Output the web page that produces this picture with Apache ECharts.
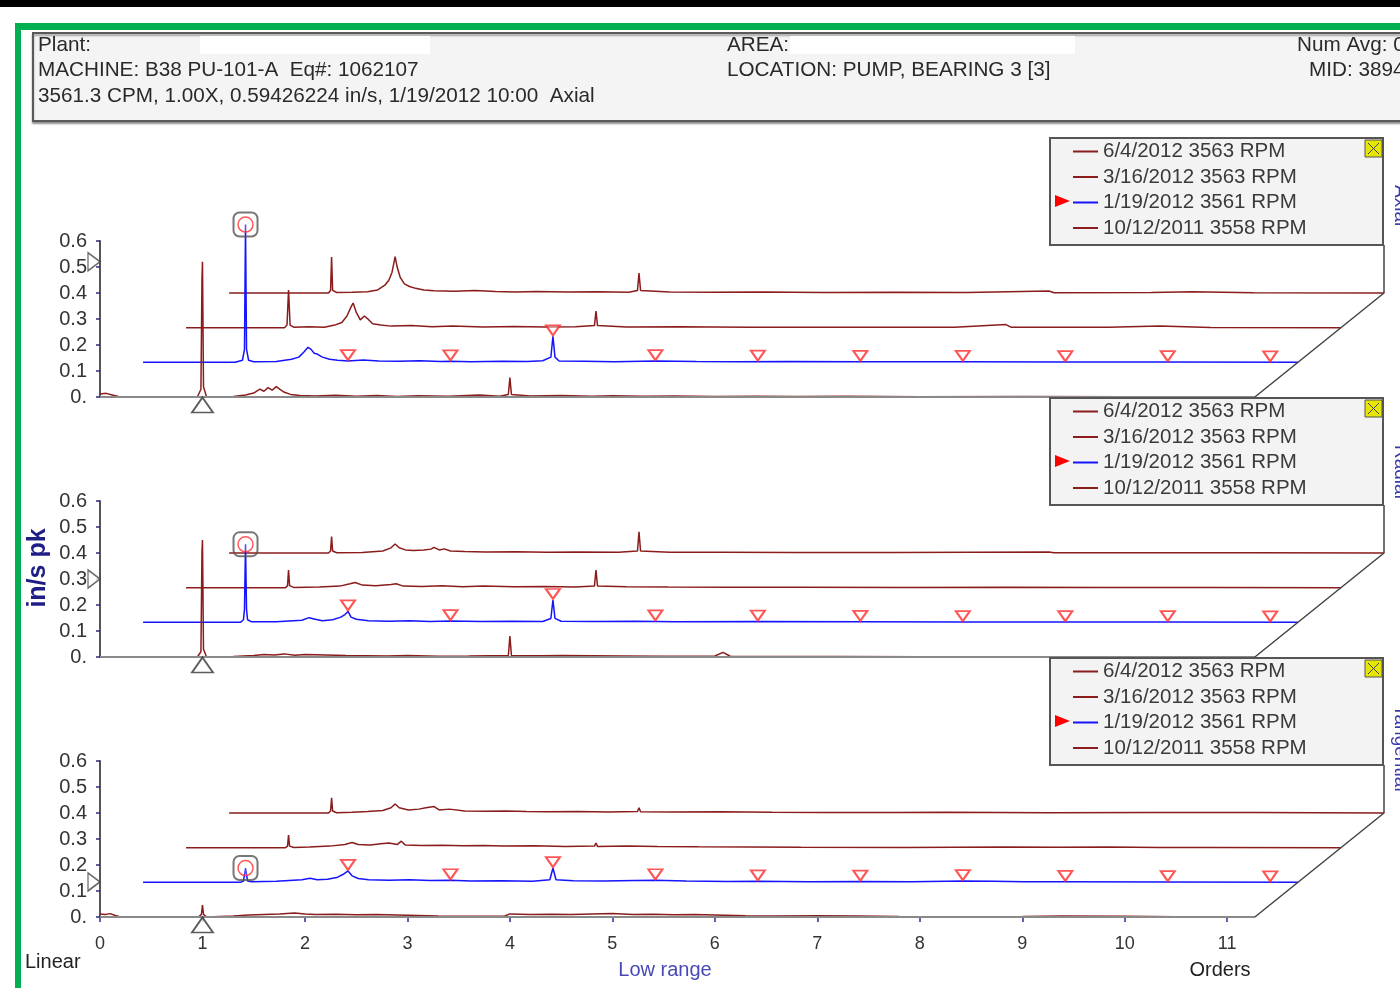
<!DOCTYPE html>
<html><head><meta charset="utf-8">
<script src="https://cdn.jsdelivr.net/npm/echarts@6.0.0/dist/echarts.min.js"></script>
<style>html,body{margin:0;padding:0;background:#fff}#c{width:1400px;height:988px}</style>
</head><body><div id="c"></div>
<script>
// ---------- DATA ----------
const orderTicks = [0,1,2,3,4,5,6,7,8,9,10,11];
const ampTicksMax = 0.6;
const legendNames = ['6/4/2012 3563 RPM','3/16/2012 3563 RPM','1/19/2012 3561 RPM','10/12/2011 3558 RPM'];
const panelNames = ['Axial','Radial','Tangential'];
const harmonicOrders = [2,3,4,5,6,7,8,9,10,11];

// Axial spectra [order, in/s pk]
const axialOct2011 = [[0,0.012],[0.06,0.014],[0.12,0.008],[0.18,0.002],[0.3,0],[0.95,0],[0.985,0.03],[0.995,0.45],[1.0,0.52],[1.01,0.04],[1.04,0],[1.3,0.002],[1.42,0.008],[1.5,0.015],[1.56,0.03],[1.6,0.022],[1.64,0.036],[1.68,0.026],[1.72,0.04],[1.76,0.028],[1.8,0.018],[1.86,0.01],[1.95,0.006],[2.1,0.004],[2.3,0.007],[2.5,0.003],[2.7,0.006],[2.9,0.002],[3.1,0.005],[3.4,0.003],[3.7,0.008],[3.9,0.003],[3.985,0.01],[4.0,0.075],[4.015,0.01],[4.2,0.004],[4.5,0.006],[4.8,0.003],[5.0,0.005],[5.3,0.003],[5.6,0.004],[6.0,0.002],[6.4,0.003],[6.8,0.002],[7.3,0.003],[8.0,0.001],[9.0,0.002],[10.0,0.001],[11.27,0]];
const axialJan2012 = [[0,0],[0.9,0],[0.97,0.008],[0.99,0.05],[1.0,0.53],[1.01,0.05],[1.03,0.008],[1.08,0.002],[1.3,0.003],[1.45,0.012],[1.52,0.02],[1.57,0.04],[1.61,0.058],[1.64,0.05],[1.67,0.035],[1.7,0.032],[1.75,0.02],[1.82,0.012],[1.9,0.008],[2.0,0.005],[2.15,0.009],[2.3,0.005],[2.5,0.004],[2.7,0.006],[2.9,0.003],[3.0,0.004],[3.2,0.002],[3.5,0.004],[3.75,0.003],[3.9,0.006],[3.98,0.02],[4.0,0.1],[4.02,0.02],[4.06,0.005],[4.3,0.004],[4.6,0.002],[5.0,0.005],[5.4,0.003],[5.8,0.002],[6.3,0.003],[7.0,0.002],[8.0,0.002],[9.0,0.001],[10.0,0.001],[11.27,0]];
const axialMar2012 = [[0,0],[0.96,0],[0.985,0.01],[1.0,0.145],[1.015,0.01],[1.05,0.002],[1.2,0.004],[1.35,0.002],[1.45,0.01],[1.52,0.02],[1.57,0.045],[1.61,0.08],[1.63,0.095],[1.66,0.06],[1.7,0.03],[1.74,0.045],[1.77,0.035],[1.82,0.015],[1.9,0.01],[2.0,0.006],[2.2,0.008],[2.4,0.004],[2.6,0.006],[2.9,0.003],[3.2,0.005],[3.5,0.003],[3.8,0.004],[3.985,0.008],[4.0,0.064],[4.015,0.008],[4.3,0.003],[4.8,0.004],[5.5,0.002],[6.5,0.002],[7.5,0.002],[8.0,0.012],[8.05,0.002],[9.0,0.002],[9.5,0.006],[10.0,0.001],[11.27,0]];
const axialJun2012 = [[0,0],[0.97,0],[0.99,0.01],[1.0,0.138],[1.01,0.01],[1.05,0.002],[1.2,0.003],[1.35,0.005],[1.45,0.012],[1.52,0.03],[1.56,0.05],[1.59,0.08],[1.61,0.12],[1.62,0.14],[1.64,0.1],[1.67,0.06],[1.71,0.035],[1.76,0.025],[1.82,0.018],[1.9,0.012],[2.0,0.009],[2.2,0.007],[2.4,0.01],[2.6,0.006],[2.8,0.004],[3.0,0.006],[3.3,0.004],[3.6,0.005],[3.9,0.003],[3.985,0.01],[4.0,0.077],[4.015,0.01],[4.3,0.004],[4.7,0.003],[5.2,0.004],[5.8,0.002],[6.5,0.003],[7.2,0.002],[8.0,0.008],[8.05,0.001],[9.0,0.002],[9.4,0.005],[10.0,0.001],[11.27,0]];

// Radial spectra
const radialOct2011 = [[0,0],[0.95,0],[0.985,0.02],[0.995,0.4],[1.0,0.45],[1.01,0.03],[1.04,0],[1.3,0.002],[1.5,0.006],[1.6,0.01],[1.7,0.008],[1.8,0.012],[1.9,0.007],[2.0,0.01],[2.2,0.008],[2.4,0.006],[2.6,0.005],[2.8,0.004],[3.0,0.006],[3.3,0.003],[3.6,0.004],[3.985,0.006],[4.0,0.081],[4.015,0.006],[4.3,0.005],[4.5,0.006],[4.8,0.005],[5.1,0.004],[5.5,0.003],[6.0,0.004],[6.08,0.018],[6.15,0.003],[6.6,0.002],[7.2,0.002],[8.0,0.001],[9.0,0.001],[10.0,0.001],[11.27,0]];
const radialJan2012 = [[0,0],[0.95,0],[0.98,0.01],[0.99,0.05],[1.0,0.3],[1.01,0.05],[1.02,0.01],[1.06,0.002],[1.3,0.002],[1.55,0.008],[1.62,0.018],[1.68,0.012],[1.75,0.006],[1.85,0.01],[1.93,0.02],[1.97,0.03],[2.0,0.042],[2.03,0.02],[2.08,0.012],[2.2,0.006],[2.4,0.004],[2.6,0.006],[2.8,0.003],[3.0,0.005],[3.3,0.003],[3.6,0.004],[3.9,0.003],[3.98,0.015],[4.0,0.086],[4.02,0.015],[4.08,0.004],[4.4,0.003],[4.8,0.004],[5.2,0.002],[6.0,0.003],[7.0,0.002],[8.0,0.001],[9.0,0.001],[10.0,0.001],[11.27,0]];
const radialMar2012 = [[0,0],[0.97,0],[0.99,0.008],[1.0,0.068],[1.01,0.008],[1.05,0.001],[1.3,0.003],[1.5,0.006],[1.6,0.015],[1.65,0.02],[1.72,0.01],[1.85,0.007],[2.0,0.012],[2.05,0.015],[2.12,0.006],[2.3,0.005],[2.5,0.007],[2.7,0.004],[2.9,0.006],[3.2,0.004],[3.5,0.005],[3.8,0.003],[3.985,0.006],[4.0,0.068],[4.015,0.006],[4.3,0.004],[4.7,0.003],[5.3,0.002],[6.0,0.002],[7.0,0.001],[8.0,0.002],[9.0,0.001],[10.0,0.001],[11.27,0]];
const radialJun2012 = [[0,0],[0.97,0],[0.99,0.008],[1.0,0.063],[1.01,0.008],[1.05,0.001],[1.3,0.002],[1.5,0.008],[1.58,0.02],[1.62,0.035],[1.66,0.02],[1.72,0.012],[1.8,0.01],[1.9,0.012],[1.97,0.015],[2.0,0.022],[2.05,0.012],[2.1,0.016],[2.16,0.008],[2.3,0.006],[2.5,0.004],[2.8,0.005],[3.1,0.003],[3.4,0.004],[3.8,0.003],[3.985,0.008],[4.0,0.082],[4.015,0.008],[4.3,0.003],[4.8,0.003],[5.5,0.002],[6.5,0.002],[8.0,0.004],[8.05,0.001],[9.0,0.001],[10.0,0.001],[11.27,0]];

// Tangential spectra
const tangOct2011 = [[0,0.012],[0.05,0.01],[0.1,0.013],[0.15,0.006],[0.2,0],[0.96,0],[0.99,0.01],[1.0,0.046],[1.01,0.01],[1.04,0],[1.3,0.004],[1.45,0.008],[1.6,0.01],[1.75,0.012],[1.9,0.015],[2.0,0.012],[2.1,0.01],[2.3,0.011],[2.5,0.009],[2.7,0.01],[2.9,0.008],[3.1,0.006],[3.3,0.004],[3.6,0.003],[3.95,0.004],[4.0,0.012],[4.2,0.01],[4.4,0.011],[4.6,0.01],[4.8,0.012],[5.0,0.013],[5.2,0.01],[5.4,0.011],[5.6,0.009],[5.8,0.01],[6.0,0.008],[6.3,0.005],[6.6,0.004],[7.0,0.005],[7.4,0.004],[7.8,0.002],[8.5,0.001],[9.0,0.002],[9.4,0.004],[10.0,0.003],[10.5,0.001],[11.27,0]];
const tangJan2012 = [[0,0],[0.95,0],[0.98,0.005],[1.0,0.055],[1.02,0.005],[1.06,0.002],[1.3,0.004],[1.55,0.01],[1.63,0.016],[1.7,0.01],[1.8,0.012],[1.9,0.02],[1.95,0.03],[2.0,0.044],[2.04,0.025],[2.1,0.015],[2.2,0.01],[2.4,0.008],[2.6,0.01],[2.8,0.007],[3.0,0.008],[3.2,0.005],[3.5,0.006],[3.8,0.004],[3.97,0.01],[4.0,0.055],[4.03,0.01],[4.2,0.006],[4.5,0.005],[4.8,0.007],[5.0,0.008],[5.3,0.005],[5.7,0.003],[6.0,0.004],[6.5,0.002],[7.0,0.003],[7.5,0.002],[8.0,0.005],[8.3,0.004],[8.6,0.002],[9.0,0.002],[10.0,0.001],[11.27,0]];
const tangMar2012 = [[0,0],[0.97,0],[0.99,0.006],[1.0,0.049],[1.01,0.006],[1.05,0.001],[1.2,0.003],[1.4,0.006],[1.55,0.012],[1.62,0.02],[1.68,0.012],[1.8,0.01],[1.9,0.015],[1.98,0.018],[2.06,0.012],[2.1,0.025],[2.14,0.01],[2.3,0.008],[2.5,0.009],[2.7,0.007],[2.9,0.008],[3.1,0.006],[3.4,0.007],[3.7,0.005],[3.985,0.006],[4.0,0.018],[4.015,0.005],[4.3,0.006],[4.6,0.005],[5.0,0.004],[5.5,0.003],[6.0,0.002],[7.0,0.001],[8.0,0.003],[8.5,0.002],[9.0,0.003],[9.5,0.001],[10.0,0.001],[11.27,0]];
const tangJun2012 = [[0,0],[0.97,0],[0.99,0.008],[1.0,0.059],[1.01,0.008],[1.05,0.001],[1.2,0.003],[1.35,0.006],[1.5,0.01],[1.58,0.02],[1.62,0.035],[1.66,0.02],[1.75,0.012],[1.85,0.015],[1.92,0.02],[2.0,0.025],[2.05,0.012],[2.15,0.015],[2.3,0.008],[2.5,0.007],[2.7,0.008],[2.9,0.006],[3.1,0.005],[3.4,0.006],[3.7,0.004],[3.985,0.006],[4.0,0.02],[4.015,0.005],[4.3,0.004],[4.8,0.005],[5.3,0.003],[5.8,0.002],[6.5,0.002],[7.0,0.003],[8.0,0.001],[9.0,0.002],[10.0,0.002],[11.27,0]];

// harmonic marker amplitudes on the 1/19/2012 trace (orders 2..11)
const axialHarmonicAmps  = [0.005,0.004,0.1,0.005,0.003,0.002,0.002,0.001,0.001,0];
const radialHarmonicAmps = [0.042,0.005,0.086,0.004,0.003,0.002,0.001,0.001,0.001,0];
const tangHarmonicAmps   = [0.044,0.008,0.055,0.008,0.004,0.003,0.005,0.002,0.001,0];
const oneXAmps   = [0.53, 0.30, 0.055];   // 1X peak of 1/19/2012 per panel
const cursorAmps = [0.52, 0.30, 0.135];   // amplitude cursor on y axis

// ---------- LAYOUT ----------
const FONT = '"Liberation Sans", Arial, sans-serif';
const BROWN = '#8b1c1c', BLUE = '#1414ff';
const stepOrder = 0.42, stepAmp = 0.1333, xMax = 11.27, frameTop = 0.585;
const plotMax = xMax + 3 * stepOrder;        // depth of the waterfall
const gridTops = [241, 501, 761];
const panels = [
  {traces:[axialOct2011, axialJan2012, axialMar2012, axialJun2012], harm: axialHarmonicAmps},
  {traces:[radialOct2011, radialJan2012, radialMar2012, radialJun2012], harm: radialHarmonicAmps},
  {traces:[tangOct2011, tangJan2012, tangMar2012, tangJun2012], harm: tangHarmonicAmps}
];

const grids = [], xAxes = [], yAxes = [], series = [], legends = [], graphics = [];
const common = {clip: false, silent: true, animation: false, emphasis: {disabled: true}};

panels.forEach((p, i) => {
  const last = i === 2;
  grids.push({left: 100, width: 1284, top: gridTops[i], height: 156});
  xAxes.push({
    type: 'value', gridIndex: i, min: 0, max: plotMax,
    axisLine: {show: false},
    axisTick: {show: last, customValues: orderTicks, length: 5, lineStyle: {color: '#2a2aa0', width: 1.5}},
    axisLabel: {show: last, customValues: orderTicks, fontSize: 18, color: '#333', fontFamily: FONT, margin: 18},
    splitLine: {show: false}
  });
  yAxes.push({
    type: 'value', gridIndex: i, min: 0, max: ampTicksMax, interval: 0.1,
    axisLine: {show: true, lineStyle: {color: '#555', width: 2}},
    axisTick: {show: true, length: 4, lineStyle: {color: '#2a2a90', width: 1.5}},
    axisLabel: {fontSize: 20, color: '#333', fontFamily: FONT, margin: 13,
      formatter: v => v === 0 ? '0.' : v.toFixed(1)},
    splitLine: {show: false}
  });
  // traces: back (6/4/2012) to front (10/12/2011)
  for (let k = 3; k >= 0; k--) {
    const col = k === 1 ? BLUE : BROWN;
    series.push(Object.assign({
      name: legendNames[3 - k], type: 'line', xAxisIndex: i, yAxisIndex: i,
      symbol: 'none', showSymbol: false, z: 2,
      lineStyle: {color: col, width: 1.5}, itemStyle: {color: col},
      data: p.traces[k].map(([o, a]) => [o + k * stepOrder, a + k * stepAmp])
    }, common));
  }
  // visible order axis (front plane only)
  series.push(Object.assign({
    name: 'axis' + i, type: 'line', xAxisIndex: i, yAxisIndex: i, symbol: 'none', z: 3,
    lineStyle: {color: '#8a8a8a', width: 2},
    data: [[0, 0], [xMax, 0]]
  }, common));
  // waterfall frame (depth edge)
  series.push(Object.assign({
    name: 'frame' + i, type: 'line', xAxisIndex: i, yAxisIndex: i, symbol: 'none', z: 3,
    lineStyle: {color: '#444', width: 1.5},
    data: [[xMax, 0], [plotMax, 3 * stepAmp], [plotMax, frameTop]]
  }, common));
  // harmonic markers
  series.push(Object.assign({
    name: 'harm' + i, type: 'scatter', xAxisIndex: i, yAxisIndex: i,
    symbol: 'triangle', symbolRotate: 180, symbolSize: [14, 10], symbolOffset: [0, -6], z: 4,
    itemStyle: {color: 'rgba(255,255,255,0.5)', borderColor: '#ff2a2a', borderWidth: 2},
    data: harmonicOrders.map((o, j) => [o + stepOrder, p.harm[j] + stepAmp])
  }, common));
  // 1X peak marker: box + ring
  series.push(Object.assign({
    name: 'box' + i, type: 'scatter', xAxisIndex: i, yAxisIndex: i,
    symbol: 'roundRect', symbolSize: 24, z: 4,
    itemStyle: {color: 'rgba(0,0,0,0)', borderColor: '#555', borderWidth: 2},
    data: [[1 + stepOrder, oneXAmps[i] + stepAmp]]
  }, common));
  series.push(Object.assign({
    name: 'ring' + i, type: 'scatter', xAxisIndex: i, yAxisIndex: i,
    symbol: 'circle', symbolSize: 15, z: 5,
    itemStyle: {color: 'rgba(255,255,255,0.3)', borderColor: '#ff3030', borderWidth: 1.5},
    data: [[1 + stepOrder, oneXAmps[i] + stepAmp]]
  }, common));
  // order cursor (below x axis) and amplitude cursor (left of y axis)
  series.push(Object.assign({
    name: 'xcur' + i, type: 'scatter', xAxisIndex: i, yAxisIndex: i,
    symbol: 'triangle', symbolSize: [21, 15], symbolOffset: [0, 8], z: 6,
    itemStyle: {color: '#fff', borderColor: '#333', borderWidth: 1.8},
    data: [[1, 0]]
  }, common));
  series.push(Object.assign({
    name: 'ycur' + i, type: 'scatter', xAxisIndex: i, yAxisIndex: i,
    symbol: 'triangle', symbolRotate: -90, symbolSize: [18, 12], symbolOffset: [-6, 0], z: 6,
    itemStyle: {color: '#fff', borderColor: '#444', borderWidth: 1.5},
    data: [[0, cursorAmps[i]]]
  }, common));

  // legend box
  const by = 138 + 260 * i;
  graphics.push({type: 'rect', shape: {x: 1050, y: by, width: 333, height: 107}, z: 10,
    style: {fill: '#f3f3f3', stroke: '#555', lineWidth: 2}});
  graphics.push({type: 'rect', shape: {x: 1365, y: by + 2, width: 17, height: 17}, z: 11,
    style: {fill: '#e6e600', stroke: '#555', lineWidth: 1}});
  graphics.push({type: 'polyline', shape: {points: [[1368, by + 5], [1379, by + 16]]}, z: 12, style: {stroke: '#444', lineWidth: 1}});
  graphics.push({type: 'polyline', shape: {points: [[1379, by + 5], [1368, by + 16]]}, z: 12, style: {stroke: '#444', lineWidth: 1}});
  graphics.push({type: 'polygon', shape: {points: [[1055, by + 57], [1055, by + 69], [1070, by + 63]]}, z: 12, style: {fill: '#ff0000'}});
  legends.push({
    data: legendNames, selectedMode: false, orient: 'vertical', left: 1073, top: by + 3, z: 12,
    icon: 'rect', itemWidth: 25, itemHeight: 2, itemGap: 4.5, padding: 0,
    textStyle: {fontSize: 20.5, color: '#3a3a3a', fontFamily: FONT, lineHeight: 20}
  });
  // side label
  graphics.push({type: 'text', x: 1391, y: 185 + 260 * i, rotation: -Math.PI / 2, z: 12,
    style: {text: panelNames[i], fontSize: 19, fill: '#3a3aa8', fontFamily: FONT, align: 'left', verticalAlign: 'bottom'}});
});

// frame, header
graphics.unshift(
  {type: 'rect', shape: {x: 0, y: 0, width: 1400, height: 7}, style: {fill: '#000'}, z: 1},
  {type: 'rect', shape: {x: 15, y: 23, width: 1385, height: 7}, style: {fill: '#00b050'}, z: 1},
  {type: 'rect', shape: {x: 15, y: 23, width: 6, height: 965}, style: {fill: '#00b050'}, z: 1},
  {type: 'rect', shape: {x: 33, y: 33, width: 1390, height: 88}, z: 1,
    style: {fill: '#f4f4f4', stroke: '#5a5a5a', lineWidth: 2, shadowBlur: 2, shadowOffsetY: 2, shadowColor: 'rgba(0,0,0,0.35)'}},
  {type: 'rect', shape: {x: 200, y: 36, width: 230, height: 18}, style: {fill: '#fff'}, z: 2},
  {type: 'rect', shape: {x: 790, y: 36, width: 285, height: 18}, style: {fill: '#fff'}, z: 2}
);
const hdr = (t, x, y) => ({type: 'text', x, y, z: 3,
  style: {text: t, fontSize: 20.7, fill: '#2a2a2a', fontFamily: FONT, verticalAlign: 'middle'}});
graphics.push(
  hdr('Plant:', 38, 45),
  hdr('MACHINE: B38 PU-101-A  Eq#: 1062107', 38, 70),
  hdr('3561.3 CPM, 1.00X, 0.59426224 in/s, 1/19/2012 10:00  Axial', 38, 96),
  hdr('AREA:', 727, 45),
  hdr('LOCATION: PUMP, BEARING 3 [3]', 727, 70),
  hdr('Num Avg: 0', 1297, 45),
  hdr('MID: 3894', 1309, 70),
  {type: 'text', x: 38, y: 568, rotation: Math.PI / 2, z: 3,
    style: {text: 'in/s pk', fontSize: 25, fontWeight: 'bold', fill: '#1e1e86', fontFamily: FONT, align: 'center', verticalAlign: 'middle'}},
  {type: 'text', x: 25, y: 962, z: 3, style: {text: 'Linear', fontSize: 20, fill: '#222', fontFamily: FONT, verticalAlign: 'middle'}},
  {type: 'text', x: 665, y: 970, z: 3, style: {text: 'Low range', fontSize: 20, fill: '#4848b8', fontFamily: FONT, align: 'center', verticalAlign: 'middle'}},
  {type: 'text', x: 1220, y: 970, z: 3, style: {text: 'Orders', fontSize: 20, fill: '#222', fontFamily: FONT, align: 'center', verticalAlign: 'middle'}}
);

const chart = echarts.init(document.getElementById('c'), null, {renderer: 'canvas'});
chart.setOption({
  animation: false,
  backgroundColor: '#fff',
  grid: grids, xAxis: xAxes, yAxis: yAxes, series, legend: legends,
  graphic: {elements: graphics}
});
</script></body></html>
